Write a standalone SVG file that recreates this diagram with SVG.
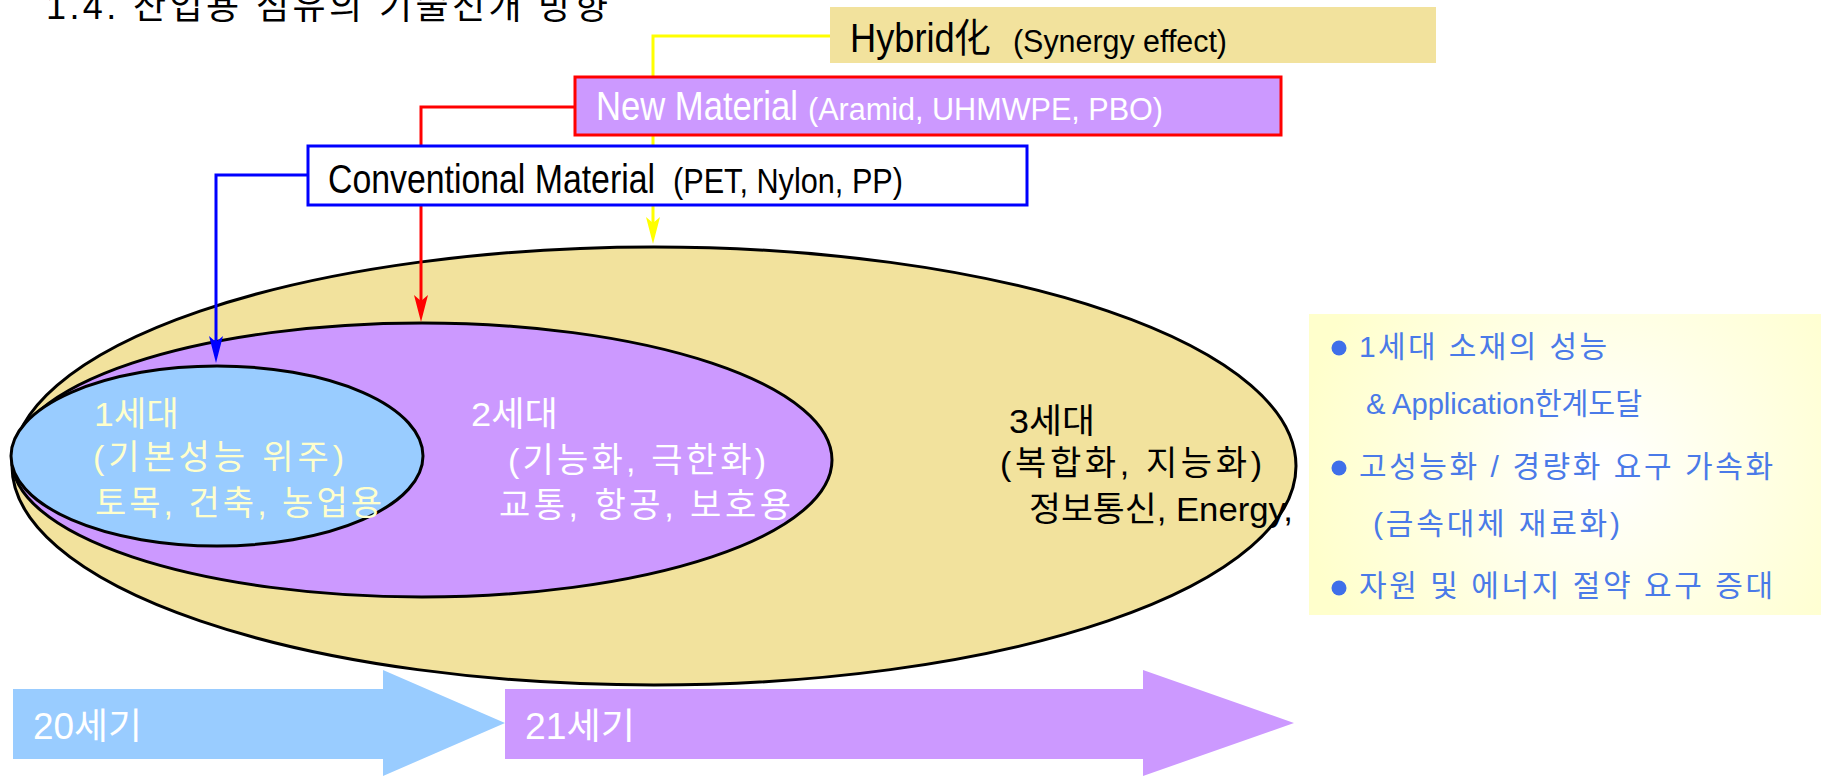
<svg xmlns="http://www.w3.org/2000/svg" width="1821" height="776" viewBox="0 0 1821 776">
<style>
text{font-family:"Liberation Sans","Noto Sans CJK KR",sans-serif;}
.ell{stroke:#000;stroke-width:3}
.k1{fill:#FFFFCC;font-size:34px}
.k2{fill:#FFFFFF;font-size:34px}
.k3{fill:#000;font-size:34px}
.bl{fill:#4A7AE8;font-size:30px}
.dot{fill:#3F6FEA}
.big{font-size:40px}
.sm{font-size:31px}
.conn{fill:none;stroke-width:3}
</style>
<defs>
<marker id="ay" markerUnits="userSpaceOnUse" markerWidth="30" markerHeight="16" refX="17" refY="7" orient="auto"><path d="M0,0 L27,7 L0,14 L6,7 Z" fill="#FFFF00"/></marker>
<marker id="ar" markerUnits="userSpaceOnUse" markerWidth="30" markerHeight="16" refX="17" refY="7" orient="auto"><path d="M0,0 L27,7 L0,14 L6,7 Z" fill="#FF0000"/></marker>
<marker id="ab" markerUnits="userSpaceOnUse" markerWidth="30" markerHeight="16" refX="17" refY="7" orient="auto"><path d="M0,0 L27,7 L0,14 L6,7 Z" fill="#0000FF"/></marker>
<radialGradient id="rg" cx="1600" cy="467" r="300" gradientUnits="userSpaceOnUse"><stop offset="0" stop-color="#FFFFFF"/><stop offset="1" stop-color="#FFFFCC"/></radialGradient>
</defs>
<rect width="1821" height="776" fill="#FFFFFF"/>
<text id="title" x="46" y="19" font-size="36" textLength="562" fill="#000">1.4. 산업용 섬유의 기술전개 방향</text>

<g id="gen3">
<ellipse class="ell" cx="654" cy="466" rx="642" ry="219" fill="#F2E29D"/>
</g>
<g id="gen2">
<ellipse class="ell" cx="422" cy="460" rx="410" ry="137" fill="#CC99FF"/>
</g>
<g id="gen1">
<ellipse class="ell" cx="217" cy="456" rx="206" ry="90" fill="#99CCFF"/>
<text class="k1" x="94" y="426" textLength="85" lengthAdjust="spacingAndGlyphs">1세대</text>
<text class="k1" x="93" y="469" textLength="251">(기본성능 위주)</text>
<text class="k1" x="95" y="515" textLength="287">토목, 건축, 농업용</text>
</g>
<g id="gen2-text">
<text class="k2" x="471" y="426" textLength="87" lengthAdjust="spacingAndGlyphs">2세대</text>
<text class="k2" x="508" y="472" textLength="258">(기능화, 극한화)</text>
<text class="k2" x="499" y="517" textLength="292">교통, 항공, 보호용</text>
</g>
<g id="gen3-text">
<text class="k3" x="1009" y="433" textLength="86" lengthAdjust="spacingAndGlyphs">3세대</text>
<text class="k3" x="1000" y="475" textLength="262">(복합화, 지능화)</text>
<text class="k3" x="1029" y="521" textLength="264" lengthAdjust="spacingAndGlyphs">정보통신, Energy,</text>
</g>

<g id="connectors">
<path class="conn" stroke="#FFFF00" d="M830,36 H653 V234" marker-end="url(#ay)"/>
<path class="conn" stroke="#FF0000" d="M574,107 H421 V312" marker-end="url(#ar)"/>
<path class="conn" stroke="#0000FF" d="M308,175 H216 V353" marker-end="url(#ab)"/>
</g>

<g id="hybrid">
<rect x="830" y="7" width="606" height="56" fill="#F2E29D"/>
<text class="big" x="850" y="52" textLength="141" lengthAdjust="spacingAndGlyphs" fill="#000">Hybrid化</text>
<text class="sm" x="1013" y="52" textLength="214" lengthAdjust="spacingAndGlyphs" fill="#000">(Synergy effect)</text>
</g>
<g id="newmat">
<rect x="575" y="77" width="706" height="58" fill="#CC99FF" stroke="#FF0000" stroke-width="3"/>
<text class="big" x="596" y="120" textLength="202" lengthAdjust="spacingAndGlyphs" fill="#FFFFFF">New Material</text>
<text class="sm" x="808" y="120" textLength="355" lengthAdjust="spacingAndGlyphs" fill="#FFFFFF">(Aramid, UHMWPE, PBO)</text>
</g>
<g id="convmat">
<rect x="308" y="146" width="719" height="59" fill="#FFFFFF" stroke="#0000FF" stroke-width="3"/>
<text class="big" x="328" y="193" textLength="327" lengthAdjust="spacingAndGlyphs" fill="#000">Conventional Material</text>
<text x="673" y="193" font-size="35" textLength="230" lengthAdjust="spacingAndGlyphs" fill="#000">(PET, Nylon, PP)</text>
</g>

<g id="notes">
<rect x="1309" y="314" width="512" height="301" fill="url(#rg)"/>
<circle class="dot" cx="1339" cy="348" r="7.5"/>
<circle class="dot" cx="1339" cy="468" r="7.5"/>
<circle class="dot" cx="1339" cy="588" r="7.5"/>
<text class="bl" x="1359" y="357" textLength="248">1세대 소재의 성능</text>
<text class="bl" x="1366" y="414" textLength="276" lengthAdjust="spacingAndGlyphs">&amp; Application한계도달</text>
<text class="bl" x="1359" y="477" textLength="414">고성능화 / 경량화 요구 가속화</text>
<text class="bl" x="1373" y="534" textLength="247">(금속대체 재료화)</text>
<text class="bl" x="1359" y="596" textLength="414">자원 및 에너지 절약 요구 증대</text>
</g>

<g id="c20">
<path d="M13,689 H383 V670 L505,723 L383,776 V759 H13 Z" fill="#99CCFF"/>
<text x="33" y="739" font-size="36" textLength="109" lengthAdjust="spacingAndGlyphs" fill="#FFFFFF">20세기</text>
</g>
<g id="c21">
<path d="M505,689 H1143 V670 L1294,723 L1143,776 V759 H505 Z" fill="#CC99FF"/>
<text x="525" y="739" font-size="36" textLength="110" lengthAdjust="spacingAndGlyphs" fill="#FFFFFF">21세기</text>
</g>
</svg>
